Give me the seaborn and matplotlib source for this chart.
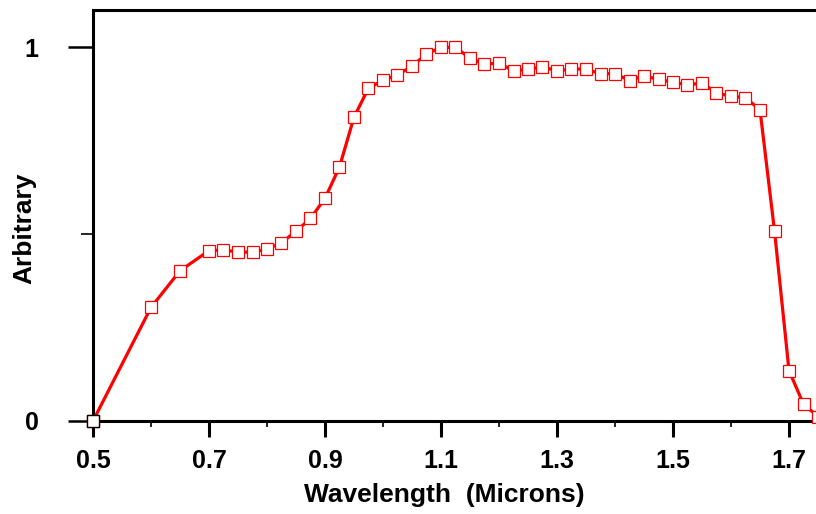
import matplotlib
matplotlib.use("Agg")
import matplotlib.pyplot as plt
from matplotlib.ticker import FixedLocator
import seaborn as sns
import pandas as pd

# Data
wavelength = [0.500, 0.600, 0.650, 0.700, 0.725, 0.750, 0.775, 0.800, 0.825, 0.850,
              0.875, 0.900, 0.925, 0.950, 0.975, 1.000, 1.025, 1.050, 1.075, 1.100,
              1.125, 1.150, 1.175, 1.200, 1.225, 1.250, 1.275, 1.300, 1.325, 1.350,
              1.375, 1.400, 1.425, 1.450, 1.475, 1.500, 1.525, 1.550, 1.575, 1.600,
              1.625, 1.650, 1.675, 1.700, 1.725, 1.750]
response = [0.000, 0.304, 0.402, 0.456, 0.458, 0.452, 0.452, 0.460, 0.477, 0.508,
            0.542, 0.596, 0.680, 0.813, 0.891, 0.912, 0.926, 0.950, 0.982, 1.000,
            1.000, 0.971, 0.955, 0.958, 0.937, 0.941, 0.948, 0.937, 0.942, 0.942,
            0.929, 0.930, 0.911, 0.924, 0.914, 0.907, 0.899, 0.905, 0.878, 0.869,
            0.865, 0.833, 0.509, 0.135, 0.045, 0.012]

x_major_ticks = [0.5, 0.7, 0.9, 1.1, 1.3, 1.5, 1.7]
x_minor_ticks = [0.6, 0.8, 1.0, 1.2, 1.4, 1.6]
y_major_ticks = [0, 1]
y_minor_ticks = [0.5]
x_tick_labels = ["0.5", "0.7", "0.9", "1.1", "1.3", "1.5", "1.7"]
y_tick_labels = ["0", "1"]

sns.set_style("ticks")
plt.rcParams["font.family"] = ["Liberation Sans", "DejaVu Sans"]
plt.rcParams["font.weight"] = "bold"
plt.rcParams["text.color"] = "black"
plt.rcParams["axes.labelcolor"] = "black"
plt.rcParams["xtick.color"] = "black"
plt.rcParams["ytick.color"] = "black"

df = pd.DataFrame({"Wavelength": wavelength, "Arbitrary": response})

fig = plt.figure(figsize=(8.16, 5.14), dpi=100)
W, H = 816, 514
x0, x1 = 0.5, 1.76
px_per_unit = 580.0
ax = fig.add_axes([93 / W, 93 / H, (x1 - x0) * px_per_unit / W, 411 / H])

sns.lineplot(data=df, x="Wavelength", y="Arbitrary", ax=ax, color="#ff0000",
             linewidth=2.3, marker="s", markersize=8.2, markerfacecolor="white",
             markeredgecolor="#ff0000", markeredgewidth=0.9, clip_on=False,
             zorder=3)
# first point drawn with a black outline, as in the reference
ax.plot(wavelength[:1], response[:1], linestyle="none", marker="s", markersize=8.2,
        markerfacecolor="white", markeredgecolor="black", markeredgewidth=1.0,
        clip_on=False, zorder=4)

ax.set_xlim(x0, x1)
ax.set_ylim(0, 1.1)

ax.xaxis.set_major_locator(FixedLocator(x_major_ticks))
ax.xaxis.set_minor_locator(FixedLocator(x_minor_ticks))
ax.yaxis.set_major_locator(FixedLocator(y_major_ticks))
ax.yaxis.set_minor_locator(FixedLocator(y_minor_ticks))
ax.set_xticklabels(x_tick_labels)
ax.set_yticklabels(y_tick_labels)

ax.tick_params(axis="x", which="major", direction="out", length=11.5, width=2.2,
               pad=9, labelsize=18, colors="black")
ax.tick_params(axis="x", which="minor", direction="out", length=4, width=1.2,
               colors="black")
ax.tick_params(axis="y", which="major", direction="out", length=18, width=1.8,
               pad=21, labelsize=18, colors="black")
ax.tick_params(axis="y", which="minor", direction="out", length=8.6, width=1.2,
               colors="black")
for lab in ax.get_xticklabels() + ax.get_yticklabels():
    lab.set_fontweight("bold")
    lab.set_color("black")

for side in ["left", "bottom", "top"]:
    ax.spines[side].set_visible(True)
    ax.spines[side].set_linewidth(2.2)
    ax.spines[side].set_color("black")
ax.spines["right"].set_visible(False)

ax.set_xlabel("Wavelength  (Microns)", fontsize=19, fontweight="bold", color="black")
ax.set_ylabel("Arbitrary", fontsize=19, fontweight="bold", color="black")
ax.xaxis.set_label_coords((444 - 93) / ((x1 - x0) * px_per_unit), -0.152)
ax.yaxis.set_label_coords((36 - 93) / ((x1 - x0) * px_per_unit), 0.47)

fig.savefig("out.png", dpi=100)
